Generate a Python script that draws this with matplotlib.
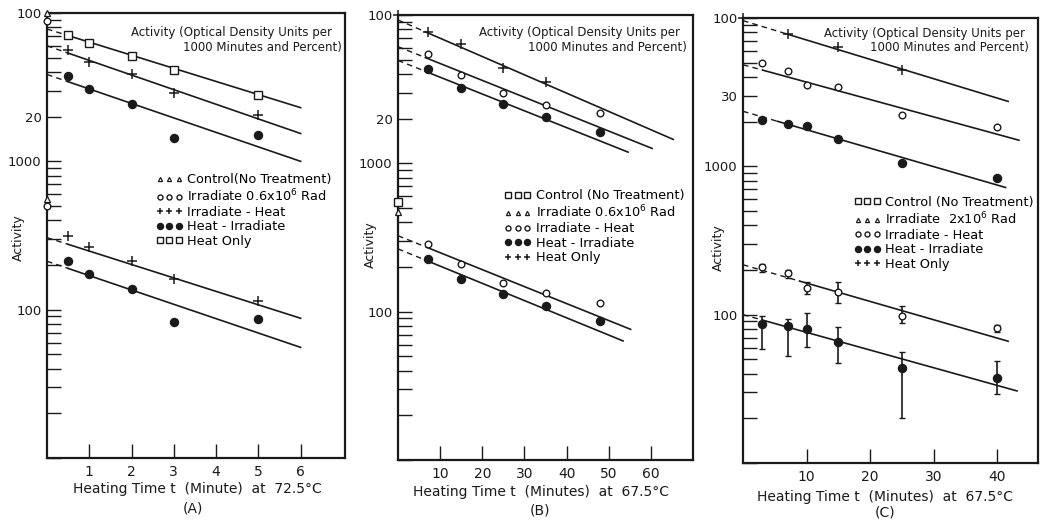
import numpy as np
import matplotlib
matplotlib.use("Agg")
import matplotlib.pyplot as plt
from matplotlib.lines import Line2D

plt.rcParams["font.family"] = ["DejaVu Sans"]

# Upper decade of each panel is read as percent (100 % sits at 10000 activity units)
PCT = 100.0

# ---------------- Panel A : heating at 72.5 C ----------------
a_t = [0.5, 1, 2, 3, 5]
a_heat_only_pct = [71.5, 62.7, 51.0, 41.4, 27.9]
a_irr_heat_pct = [56.6, 46.5, 38.7, 28.7, 20.6]
a_heat_irr_pct = [37.9, 30.9, 24.5, 14.3, 15.1]
a_irr_heat_act = [316, 264, 212, 160, 115]
a_heat_irr_act = [212, 174, 138, 82, 86]
a_zero_control_pct = 100
a_zero_irr_pct = 89
a_zero_control_act = 553
a_zero_irr_act = 501
# fitted lines: value at t=0, value at end time
a_fit_heat_only_pct = (78, 23)
a_fit_irr_heat_pct = (60.1, 15.4)
a_fit_heat_irr_pct = (38.5, 10.0)
a_fit_irr_heat_act = (306, 87.5)
a_fit_heat_irr_act = (212, 55.7)
a_fit_end = 6.0

# ---------------- Panel B : heating at 67.5 C ----------------
b_t = [7, 15, 25, 35, 48]
b_t_heat_only = [7, 15, 25, 35]
b_heat_only_pct = [76.5, 63.6, 43.9, 35.3]
b_irr_heat_pct = [54.7, 39.6, 29.8, 24.8, 21.9]
b_heat_irr_pct = [43.2, 32.0, 25.3, 20.4, 16.3]
b_irr_heat_act = [286, 208, 157, 133, 115]
b_heat_irr_act = [227, 166, 131, 109, 87]
b_zero_heat_only_pct = 100
b_zero_control_act = 545
b_zero_irr_act = 467
# fitted lines: value at t=0, value at end time, end time
b_fit_heat_only_pct = (92.6, 14.5, 65.3)
b_fit_irr_heat_pct = (61.2, 12.6, 60.3)
b_fit_heat_irr_pct = (49.4, 11.9, 54.6)
b_fit_irr_heat_act = (325, 76, 55.2)
b_fit_heat_irr_act = (265, 63.5, 53.4)

# ---------------- Panel C : heating at 67.5 C, 2x10^6 rad ----------------
c_t = [3, 7, 10, 15, 25, 40]
c_t_heat_only = [7, 15, 25]
c_heat_only_pct = [77.8, 64.2, 44.3]
c_irr_heat_pct = [49.7, 44.1, 35.5, 34.0, 22.3, 18.5]
c_heat_irr_pct = [20.5, 19.4, 18.6, 15.2, 10.5, 8.4]
c_irr_heat_act = [209, 190, 152, 142, 97.5, 81.4]
c_irr_heat_lo = [195, 178, 138, 119, 88, 76.5]
c_irr_heat_hi = [220, 201, 166, 166, 114, 85]
c_heat_irr_act = [87, 84, 80, 65, 43.9, 37.2]
c_heat_irr_lo = [58.5, 52.5, 60.7, 46.9, 20.0, 29.2]
c_heat_irr_hi = [98, 93, 103, 82.2, 55.6, 48.6]
c_zero_heat_only_pct = 100
c_fit_heat_only_pct = (96, 27.4, 41.7)
c_fit_irr_heat_pct = (48.4, 15.0, 43.4)
c_fit_heat_irr_pct = (23.5, 7.2, 41.3)
c_fit_irr_heat_act = (217, 66.2, 41.7)
c_fit_heat_irr_act = (100, 30.6, 43.1)

INK = "#1a1a1a"
W, H = 1045, 521
fig = plt.figure(figsize=(W / 100, H / 100), dpi=100)
fig.patch.set_facecolor("white")


def box(l, r, t, b):
    return [l / W, (H - b) / H, (r - l) / W, (b - t) / H]


def ftext(x, y, s, **kw):
    fig.text(x / W, 1 - y / H, s, ha="center", va="center", color=INK, **kw)


ax_a = fig.add_axes(box(47, 345, 13, 458))
ax_b = fig.add_axes(box(398, 693, 15, 460))
ax_c = fig.add_axes(box(743, 1038, 18, 463))

MK = dict(ls="none", color=INK, clip_on=False, zorder=4)
OPEN_C = dict(marker="o", ms=4.8, mfc="white", mec=INK, mew=1.0)
DOT = dict(marker="o", ms=5.8, mfc=INK, mec=INK)
PLUS = dict(marker="+", ms=6.5, mew=1.1)
SQ = dict(marker="s", ms=5.2, mfc="white", mec=INK, mew=1.0)
TRI = dict(marker="^", ms=4.0, mfc="white", mec=INK, mew=0.9)


def fit(ax, spec, t_end, t_dash, scale=1.0):
    v0, v1 = spec[0], spec[1]
    l0, l1 = np.log10(v0), np.log10(v1)
    vd = 10 ** (l0 + (l1 - l0) * t_dash / t_end)
    ax.plot([0, t_dash], [v0 * scale, vd * scale], color=INK, lw=1.0,
            ls=(0, (4, 3)), zorder=3)
    ax.plot([t_dash, t_end], [vd * scale, v1 * scale], color=INK, lw=1.2,
            zorder=3)


def style(ax, xmax, xticks, ylabels):
    ax.set_yscale("log")
    ax.set_ylim(10, 10000)
    ax.set_xlim(0, xmax)
    for s in ax.spines.values():
        s.set_linewidth(1.6)
        s.set_color(INK)
    ticks = [m * 10 ** e for e in (1, 2, 3) for m in range(1, 10)] + [10000]
    ax.yaxis.set_major_locator(matplotlib.ticker.FixedLocator(ticks))
    ax.yaxis.set_minor_locator(matplotlib.ticker.NullLocator())
    ax.set_yticklabels([ylabels.get(v, "") for v in ticks])
    ax.tick_params(axis="y", direction="in", length=10, width=1.0,
                   labelsize=9.5, pad=4, colors=INK)
    ax.set_xticks(xticks)
    ax.set_xticklabels([str(v) for v in xticks])
    ax.tick_params(axis="x", direction="in", length=10, width=1.0,
                   labelsize=10, pad=5, colors=INK)


def legend(ax, entries, x, y):
    handles = [Line2D([], [], ls="none", color=INK, **st) for st, _ in entries]
    ax.legend(handles, [lab for _, lab in entries], numpoints=3,
              loc="upper left", bbox_to_anchor=(x, y), frameon=False,
              fontsize=9.3, handlelength=2.1, handletextpad=0.35,
              labelspacing=0.12, borderpad=0, borderaxespad=0,
              markerscale=0.75)


def header(ax, x1, y1, x2, y2):
    ax.text(x1, y1, "Activity (Optical Density Units per", transform=ax.transAxes,
            ha="right", va="center", fontsize=8.5, color=INK)
    ax.text(x2, y2, "1000 Minutes and Percent)", transform=ax.transAxes,
            ha="right", va="center", fontsize=8.5, color=INK)


# ---------------- Panel A ----------------
ax = ax_a
style(ax, 7.05, [1, 2, 3, 4, 5, 6],
      {10000: "100", 2000: "20", 1000: "1000", 100: "100"})
fit(ax, a_fit_heat_only_pct, a_fit_end, 0.45, PCT)
fit(ax, a_fit_irr_heat_pct, a_fit_end, 0.5, PCT)
fit(ax, a_fit_heat_irr_pct, a_fit_end, 0.5, PCT)
fit(ax, a_fit_irr_heat_act, a_fit_end, 0.5)
fit(ax, a_fit_heat_irr_act, a_fit_end, 0.5)
ax.plot(a_t, np.array(a_heat_only_pct) * PCT, **MK, **SQ)
ax.plot(a_t, np.array(a_irr_heat_pct) * PCT, **MK, **PLUS)
ax.plot(a_t, np.array(a_heat_irr_pct) * PCT, **MK, **DOT)
ax.plot(a_t, a_irr_heat_act, **MK, **PLUS)
ax.plot(a_t, a_heat_irr_act, **MK, **DOT)
ax.plot([0], [a_zero_control_pct * PCT], **MK, **TRI)
ax.plot([0], [a_zero_irr_pct * PCT], **MK, **OPEN_C)
ax.plot([0], [a_zero_control_act], **MK, **TRI)
ax.plot([0], [a_zero_irr_act], **MK, **OPEN_C)
legend(ax, [(TRI, "Control(No Treatment)"),
            (OPEN_C, "Irradiate 0.6x10$^6$ Rad"),
            (PLUS, "Irradiate - Heat"),
            (DOT, "Heat - Irradiate"),
            (SQ, "Heat Only")], 0.365, 0.64)
header(ax, 0.955, 0.957, 0.99, 0.923)

# ---------------- Panel B ----------------
ax = ax_b
style(ax, 70, [10, 20, 30, 40, 50, 60],
      {10000: "100", 2000: "20", 1000: "1000", 100: "100"})
fit(ax, b_fit_heat_only_pct, b_fit_heat_only_pct[2], 6.5, PCT)
fit(ax, b_fit_irr_heat_pct, b_fit_irr_heat_pct[2], 6.5, PCT)
fit(ax, b_fit_heat_irr_pct, b_fit_heat_irr_pct[2], 6.5, PCT)
fit(ax, b_fit_irr_heat_act, b_fit_irr_heat_act[2], 7)
fit(ax, b_fit_heat_irr_act, b_fit_heat_irr_act[2], 7)
ax.plot(b_t_heat_only, np.array(b_heat_only_pct) * PCT, **MK, **PLUS)
ax.plot(b_t, np.array(b_irr_heat_pct) * PCT, **MK, **OPEN_C)
ax.plot(b_t, np.array(b_heat_irr_pct) * PCT, **MK, **DOT)
ax.plot(b_t, b_irr_heat_act, **MK, **OPEN_C)
ax.plot(b_t, b_heat_irr_act, **MK, **DOT)
ax.plot([0], [b_zero_heat_only_pct * PCT], **MK, **PLUS)
ax.plot([0], [b_zero_control_act], **MK, **SQ)
ax.plot([0], [b_zero_irr_act], **MK, **TRI)
legend(ax, [(SQ, "Control (No Treatment)"),
            (TRI, "Irradiate 0.6x10$^6$ Rad"),
            (OPEN_C, "Irradiate - Heat"),
            (DOT, "Heat - Irradiate"),
            (PLUS, "Heat Only")], 0.36, 0.608)
header(ax, 0.955, 0.96, 0.98, 0.926)

# ---------------- Panel C ----------------
ax = ax_c
style(ax, 46.4, [10, 20, 30, 40],
      {10000: "100", 3000: "30", 1000: "1000", 100: "100"})
fit(ax, c_fit_heat_only_pct, c_fit_heat_only_pct[2], 6.8, PCT)
fit(ax, c_fit_irr_heat_pct, c_fit_irr_heat_pct[2], 3.1, PCT)
fit(ax, c_fit_heat_irr_pct, c_fit_heat_irr_pct[2], 5.4, PCT)
fit(ax, c_fit_irr_heat_act, c_fit_irr_heat_act[2], 8.9)
fit(ax, c_fit_heat_irr_act, c_fit_heat_irr_act[2], 3.0)
ax.plot(c_t_heat_only, np.array(c_heat_only_pct) * PCT, **MK, **PLUS)
ax.plot(c_t, np.array(c_irr_heat_pct) * PCT, **MK, **OPEN_C)
ax.plot(c_t, np.array(c_heat_irr_pct) * PCT, **MK, **DOT)
ax.plot([0], [c_zero_heat_only_pct * PCT], **MK, **PLUS)
for vals, lo, hi, st in ((c_irr_heat_act, c_irr_heat_lo, c_irr_heat_hi, OPEN_C),
                         (c_heat_irr_act, c_heat_irr_lo, c_heat_irr_hi, DOT)):
    v = np.array(vals)
    err = [v - np.array(lo), np.array(hi) - v]
    ax.errorbar(c_t, v, yerr=err, fmt="none", ecolor=INK, elinewidth=1.2,
                capsize=2.2, capthick=1.0, zorder=3)
    ax.plot(c_t, v, **MK, **st)
legend(ax, [(SQ, "Control (No Treatment)"),
            (TRI, "Irradiate  2x10$^6$ Rad"),
            (OPEN_C, "Irradiate - Heat"),
            (DOT, "Heat - Irradiate"),
            (PLUS, "Heat Only")], 0.375, 0.6)
header(ax, 0.955, 0.965, 0.97, 0.934)

# axis titles placed in figure pixels
for x, y in ((18, 238), (370, 245), (718, 248)):
    ftext(x, y, "Activity", fontsize=9, rotation=90)
ftext(197, 489, "Heating Time t  (Minute)  at  72.5°C", fontsize=10)
ftext(193, 508, "(A)", fontsize=10)
ftext(541, 492, "Heating Time t  (Minutes)  at  67.5°C", fontsize=10)
ftext(540, 510, "(B)", fontsize=10)
ftext(885, 497, "Heating Time t  (Minutes)  at  67.5°C", fontsize=10)
ftext(885, 513, "(C)", fontsize=10)

fig.savefig("out.png", dpi=100, facecolor="white")
